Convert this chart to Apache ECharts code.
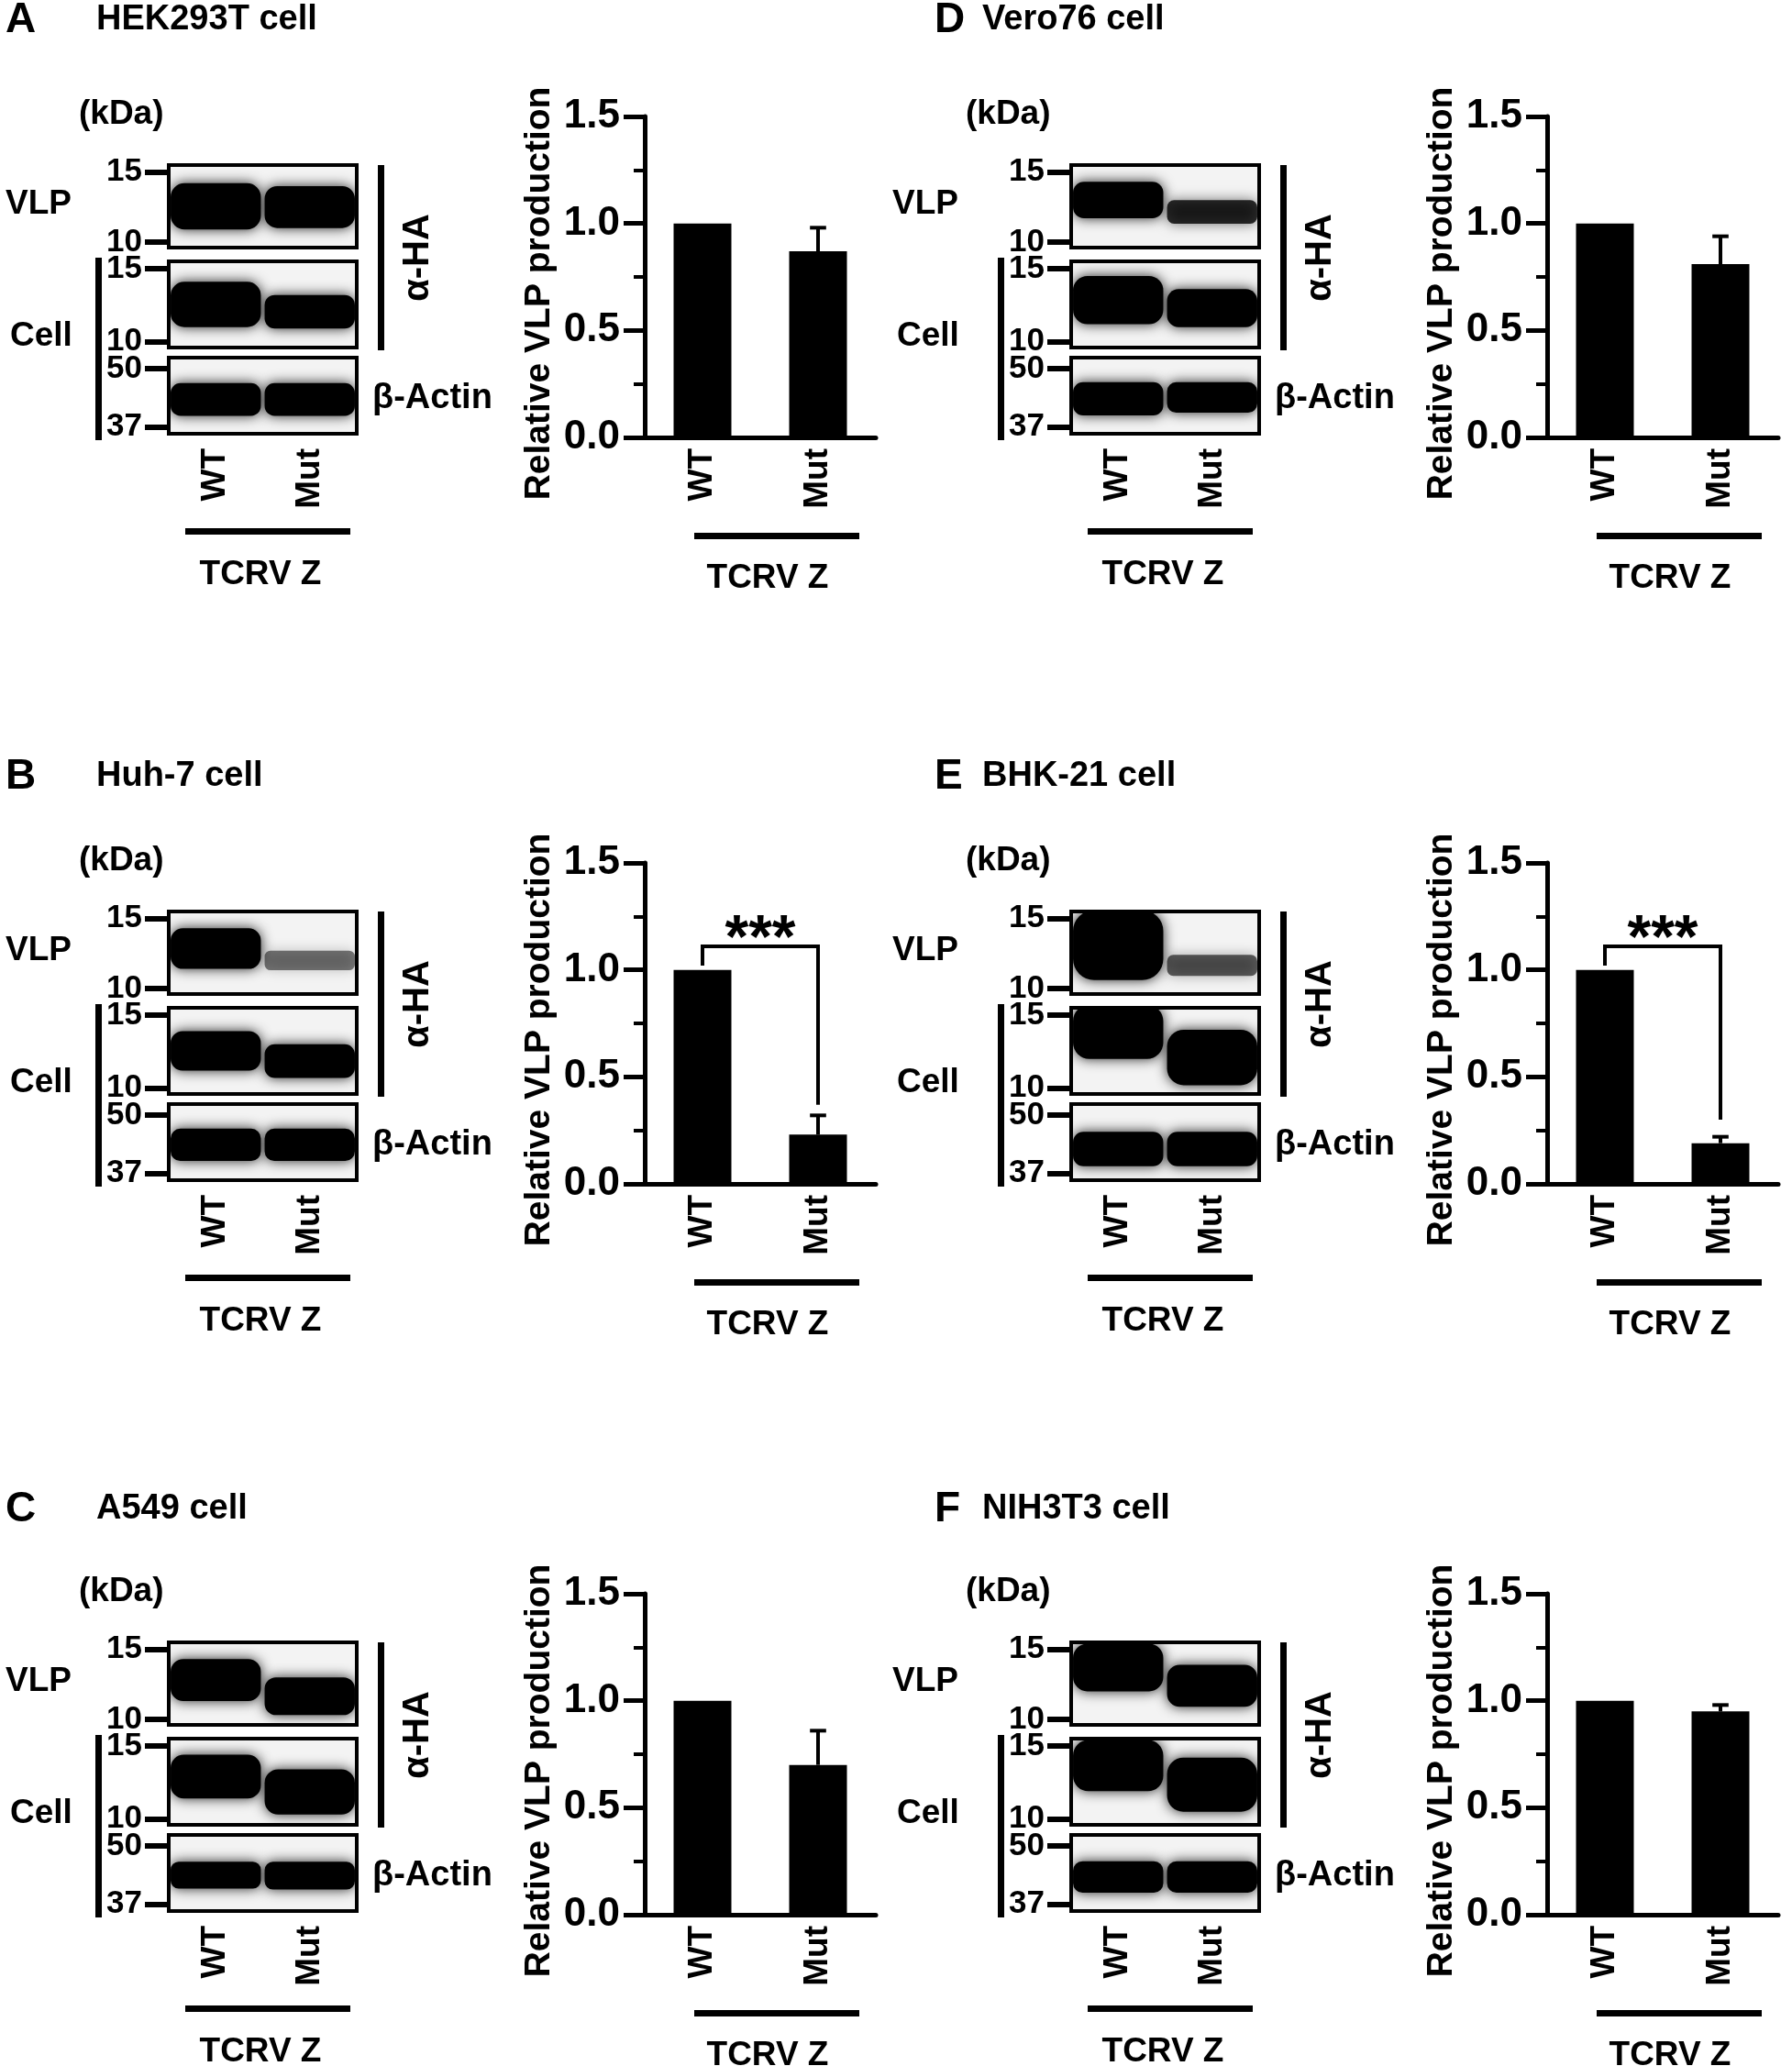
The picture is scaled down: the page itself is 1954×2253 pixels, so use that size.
<!DOCTYPE html>
<html>
<head>
<meta charset="utf-8">
<title>TCRV Z VLP production</title>
<script src="https://cdn.jsdelivr.net/npm/echarts@6.0.0/dist/echarts.min.js"></script>
<style>
html,body{margin:0;padding:0;background:#fff;}
#main{width:1954px;height:2253px;}
</style>
</head>
<body>
<div id="main"></div>
<script>
// values
var panelLetters = ['A', 'B', 'C', 'D', 'E', 'F'];
var cellLines = ['HEK293T cell', 'Huh-7 cell', 'A549 cell', 'Vero76 cell', 'BHK-21 cell', 'NIH3T3 cell'];
var lanes = ['WT', 'Mut'];
var wtMean = [1, 1, 1, 1, 1, 1];
var mutMean = [0.87, 0.23, 0.70, 0.81, 0.19, 0.95];
var mutErrTop = [0.98, 0.32, 0.86, 0.94, 0.22, 0.98];
var sigLabel = ['', '***', '', '', '***', ''];
var sigTop = [0, 1.11, 0, 0, 1.11, 0];
var sigRightEnd = [0, 0.37, 0, 0, 0.30, 0];
var haMarkers = [10, 15];
var actinMarkers = [37, 50];

// blot bands per panel: [WT, Mut], each [low kDa, high kDa, intensity]
var vlpBands = [
  [[10.9, 14.2, 1], [11.0, 14.0, 1]],
  [[11.4, 14.3, 1], [11.3, 12.7, 0.5]],
  [[11.3, 14.3, 1], [10.3, 13.0, 1]],
  [[11.7, 14.3, 1], [11.3, 13.0, 0.8]],
  [[10.6, 15.6, 1], [10.9, 12.4, 0.6]],
  [[12.0, 15.4, 1], [10.9, 13.9, 1]]
];
var cellBands = [
  [[11.0, 14.1, 1], [10.9, 13.2, 1]],
  [[11.2, 13.9, 1], [10.7, 13.0, 1]],
  [[11.4, 14.4, 1], [10.3, 13.4, 1]],
  [[11.2, 14.5, 1], [11.0, 13.6, 1]],
  [[12.0, 15.7, 1], [10.2, 14.0, 1]],
  [[11.9, 15.4, 1], [10.5, 14.2, 1]]
];
var actinBands = [
  [[39.5, 46.8, 1], [39.5, 46.8, 1]],
  [[39.8, 47.0, 1], [39.8, 47.0, 1]],
  [[40.5, 46.5, 1], [40.3, 46.5, 1]],
  [[39.6, 47.0, 1], [40.2, 47.0, 1]],
  [[38.6, 46.3, 1], [38.6, 46.3, 1]],
  [[39.6, 46.6, 1], [39.6, 46.6, 1]]
];

var FONT = '"Liberation Sans", Arial, Helvetica, sans-serif';

// layout
var colX = [0, 984], labelColX = [0, 967], letterX = [6, 1019], titleX = [105, 1071];
var rowY = [0, 814, 1611], titleY = [22, 847, 1646];
var strips = [
  {top: 180, h: 90, min: 9.6, max: 15.5, marks: haMarkers},
  {top: 285, h: 94, min: 9.6, max: 15.5, marks: haMarkers},
  {top: 390, h: 83, min: 35.5, max: 52.5, marks: actinMarkers}
];

function txt(x, y, s, size, align, rot) {
  return {
    type: 'text', x: x, y: y, rotation: rot || 0, silent: true,
    style: {text: s, font: 'bold ' + size + 'px ' + FONT, fill: '#000',
      align: align || 'left', verticalAlign: 'middle'}
  };
}
function bar(x, y, w, h) {
  return {type: 'rect', silent: true, shape: {x: x, y: y, width: w, height: h}, style: {fill: '#000'}};
}

function renderBand(params, api) {
  var lane = api.value(0), lo = api.value(1), hi = api.value(2), a = api.value(3);
  var top = api.coord([lane, hi]), bot = api.coord([lane, lo]);
  var bw = api.size([1, 0])[0] * 0.96;
  var h = bot[1] - top[1];
  return {
    type: 'rect',
    shape: {x: top[0] - bw / 2, y: top[1], width: bw, height: h, r: h * 0.3},
    style: {fill: 'rgba(0,0,0,' + a + ')', shadowBlur: 14, shadowColor: 'rgba(0,0,0,' + (a * 0.85) + ')'}
  };
}

function renderErr(params, api) {
  var x = api.value(0);
  var lo = api.coord([x, api.value(1)]), hi = api.coord([x, api.value(2)]);
  var cap = api.size([1, 0])[0] * 0.07;
  return {type: 'group', children: [
    {type: 'line', shape: {x1: lo[0], y1: lo[1], x2: hi[0], y2: hi[1]}, style: {stroke: '#000', lineWidth: 4}},
    {type: 'line', shape: {x1: hi[0] - cap, y1: hi[1], x2: hi[0] + cap, y2: hi[1]}, style: {stroke: '#000', lineWidth: 4}}
  ]};
}

function makeSig(label) {
  return function (params, api) {
    var a = api.coord([api.value(0), api.value(2)]);
    var t0 = api.coord([api.value(0), api.value(3)]);
    var t1 = api.coord([api.value(1), api.value(3)]);
    var b = api.coord([api.value(1), api.value(4)]);
    return {type: 'group', children: [
      {type: 'polyline', shape: {points: [a, t0, t1, b]}, style: {stroke: '#000', lineWidth: 4, fill: null}},
      {type: 'text', x: (t0[0] + t1[0]) / 2, y: t0[1] - 6,
        style: {text: label, font: 'bold 66px ' + FONT, fill: '#000', align: 'center', verticalAlign: 'middle'}}
    ]};
  };
}

var grids = [], xAxes = [], yAxes = [], series = [], graphic = [];
var labelStyle = {color: '#000', fontWeight: 'bold', fontFamily: FONT};

panelLetters.forEach(function (letter, p) {
  var c = p < 3 ? 0 : 1, r = p % 3;
  var ox = colX[c], oy = rowY[r], lx = labelColX[c];

  graphic.push(txt(letterX[c], titleY[r], letter, 46));
  graphic.push(txt(titleX[c], titleY[r], cellLines[p], 38));
  graphic.push(txt(lx + 86, oy + 125, '(kDa)', 37));
  graphic.push(txt(lx + 6, oy + 223, 'VLP', 37));
  graphic.push(txt(lx + 11, oy + 367, 'Cell', 37));
  graphic.push(bar(ox + 104, oy + 281, 7, 199));
  graphic.push(bar(ox + 412, oy + 180, 7, 202));
  graphic.push(txt(ox + 456, oy + 281, 'α-HA', 40, 'center', Math.PI / 2));
  graphic.push(txt(ox + 406, oy + 435, 'β-Actin', 38));
  graphic.push(bar(ox + 202, oy + 576, 180, 7));
  graphic.push(txt(ox + 284, oy + 627, 'TCRV Z', 37, 'center'));
  graphic.push(bar(ox + 757, oy + 581, 180, 7));
  graphic.push(txt(ox + 837, oy + 631, 'TCRV Z', 37, 'center'));

  // western blot strips
  var bandSets = [vlpBands[p], cellBands[p], actinBands[p]];
  strips.forEach(function (s, k) {
    var gi = grids.length;
    grids.push({left: ox + 184, top: oy + s.top, width: 205, height: s.h,
      show: true, borderColor: '#000', borderWidth: 4, backgroundColor: '#f3f3f3'});
    xAxes.push({type: 'category', gridIndex: gi, data: lanes,
      axisLine: {show: false, onZero: false}, axisTick: {show: false},
      axisLabel: Object.assign({show: k === 2, rotate: 90, margin: 16, fontSize: 37}, labelStyle)});
    yAxes.push({type: 'value', gridIndex: gi, min: s.min, max: s.max,
      splitLine: {show: false}, axisLine: {show: false},
      axisTick: {show: true, customValues: s.marks, length: 26, lineStyle: {width: 6, color: '#000'}},
      axisLabel: Object.assign({customValues: s.marks, margin: 29, fontSize: 35}, labelStyle)});
    series.push({type: 'custom', xAxisIndex: gi, yAxisIndex: gi, clip: true, silent: true,
      renderItem: renderBand,
      data: bandSets[k].map(function (b, i) { return [i, b[0], b[1], b[2]]; })});
  });

  // bar chart
  var gb = grids.length;
  grids.push({left: ox + 703, top: oy + 127, width: 252, height: 350});
  xAxes.push({type: 'category', gridIndex: gb, data: lanes,
    axisLine: {lineStyle: {color: '#000', width: 5}},
    axisTick: {alignWithLabel: true, length: 14, lineStyle: {width: 4, color: '#000'}},
    axisLabel: Object.assign({rotate: 90, margin: 12, fontSize: 37}, labelStyle)});
  yAxes.push({type: 'value', gridIndex: gb, min: 0, max: 1.5, interval: 0.5,
    axisLine: {show: true, lineStyle: {color: '#000', width: 5}},
    axisTick: {show: true, length: 23, lineStyle: {width: 5, color: '#000'}},
    minorTick: {show: true, splitNumber: 2, length: 12, lineStyle: {width: 4, color: '#000'}},
    splitLine: {show: false},
    axisLabel: Object.assign({fontSize: 44, margin: 27, formatter: function (v) { return v.toFixed(1); }}, labelStyle),
    name: 'Relative VLP production', nameLocation: 'middle', nameGap: 95,
    nameTextStyle: Object.assign({fontSize: 39, padding: [0, 36, 0, 0]}, labelStyle)});
  series.push({type: 'bar', xAxisIndex: gb, yAxisIndex: gb, silent: true,
    data: [wtMean[p], mutMean[p]], barWidth: '50%', itemStyle: {color: '#000'}});
  series.push({type: 'custom', xAxisIndex: gb, yAxisIndex: gb, silent: true,
    renderItem: renderErr, data: [[1, mutMean[p], mutErrTop[p]]]});
  if (sigLabel[p]) {
    series.push({type: 'custom', xAxisIndex: gb, yAxisIndex: gb, silent: true,
      renderItem: makeSig(sigLabel[p]),
      data: [[0, 1, wtMean[p] + 0.02, sigTop[p], sigRightEnd[p]]]});
  }
});

var chart = echarts.init(document.getElementById('main'), null, {renderer: 'canvas'});
chart.setOption({
  backgroundColor: '#fff',
  animation: false,
  grid: grids,
  xAxis: xAxes,
  yAxis: yAxes,
  series: series,
  graphic: {elements: graphic}
});
</script>
</body>
</html>
